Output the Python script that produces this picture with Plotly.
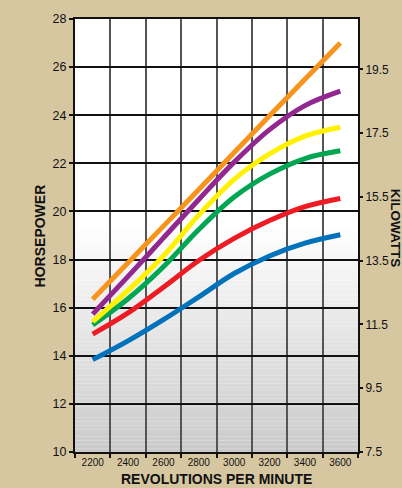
import plotly.graph_objects as go

rpm = [2200, 2400, 2600, 2800, 3000, 3200, 3400, 3600]
hp_orange = [16.35, 17.87, 19.39, 20.91, 22.45, 23.98, 25.5, 27.0]
hp_purple = [15.73, 17.3, 18.9, 20.5, 22.05, 23.4, 24.4, 25.0]
hp_yellow = [15.42, 16.72, 18.15, 19.85, 21.33, 22.39, 23.13, 23.5]
hp_green = [15.28, 16.37, 17.7, 19.25, 20.6, 21.55, 22.2, 22.52]
hp_red = [14.9, 15.78, 16.85, 17.96, 18.88, 19.62, 20.2, 20.54]
hp_blue = [13.84, 14.62, 15.5, 16.45, 17.42, 18.15, 18.68, 19.03]

hp_ticks = [10, 12, 14, 16, 18, 20, 22, 24, 26, 28]
kw_ticks = [7.5, 9.5, 11.5, 13.5, 15.5, 17.5, 19.5]
rpm_ticks = [2200, 2400, 2600, 2800, 3000, 3200, 3400, 3600]

series = [
    (hp_blue, "#0072BC"),
    (hp_red, "#ED1C24"),
    (hp_green, "#00A651"),
    (hp_yellow, "#FFF200"),
    (hp_purple, "#92278F"),
    (hp_orange, "#F7941D"),
]

fig = go.Figure()
for vals, col in series:
    fig.add_trace(go.Scatter(
        x=rpm, y=vals, mode="lines",
        line=dict(color=col, width=5, shape="spline", smoothing=1.0),
        hoverinfo="skip", showlegend=False,
    ))

# background gradient of the plot area
shapes = []
n = 60
lo, hi = 10.0, 19.5
for i in range(n):
    y0 = lo + (hi - lo) * i / n
    y1 = lo + (hi - lo) * (i + 1) / n
    t = (i + 0.5) / n
    g = int(round(202 + (255 - 202) * t))
    shapes.append(dict(
        type="rect", xref="x domain", yref="y", x0=0, x1=1, y0=y0, y1=y1,
        fillcolor=f"rgb({g},{g},{g})", line=dict(width=0), layer="below",
    ))

font = "Liberation Sans, Arial, Helvetica, sans-serif"
bg = "#d6c7a1"

fig.update_layout(
    width=402, height=488,
    margin=dict(l=75, r=44, t=16, b=36),
    paper_bgcolor=bg,
    plot_bgcolor="#ffffff",
    shapes=shapes,
    font=dict(family=font, color="#111111"),
    xaxis=dict(
        range=[2100, 3700],
        tickvals=rpm_ticks,
        ticks="",
        showgrid=False,
        tickfont=dict(size=10, color="#111"),
        showline=True, linecolor="#111", linewidth=2, mirror=True,
        zeroline=False,
        minor=dict(tickmode="linear", tick0=2100, dtick=200, ticks="outside",
                   ticklen=4, tickcolor="#111", tickwidth=1.5,
                   showgrid=True, gridcolor="#555", gridwidth=1.5),
    ),
    yaxis=dict(
        range=[10, 28],
        tickvals=hp_ticks,
        ticks="outside", ticklen=4, tickcolor="#111", tickwidth=1.5,
        showgrid=True, gridcolor="#111", gridwidth=2,
        tickfont=dict(size=12.5, color="#111"),
        showline=True, linecolor="#111", linewidth=2, mirror=True,
        zeroline=False,
    ),
    yaxis2=dict(
        range=[7.5, 21.08],
        overlaying="y", side="right",
        tickvals=kw_ticks,
        ticktext=[f"{v:.1f}" for v in kw_ticks],
        ticks="outside", ticklen=4, tickcolor="#111", tickwidth=1.5,
        showgrid=False, zeroline=False,
        tickfont=dict(size=12, color="#111"),
    ),
    annotations=[
        dict(text="<b>HORSEPOWER</b>", xref="paper", yref="paper", x=-0.124, y=0.5,
             xanchor="center", yanchor="middle", textangle=-90, showarrow=False,
             font=dict(size=14, color="#111", family=font)),
        dict(text="<b>KILOWATTS</b>", xref="paper", yref="paper", x=1.134, y=0.516,
             xanchor="center", yanchor="middle", textangle=90, showarrow=False,
             font=dict(size=13.5, color="#111", family=font)),
        dict(text="<b>REVOLUTIONS PER MINUTE</b>", xref="paper", yref="paper", x=0.5, y=-0.062,
             xanchor="center", yanchor="middle", showarrow=False,
             font=dict(size=14, color="#111", family=font)),
    ],
)
fig.add_trace(go.Scatter(x=[], y=[], yaxis="y2", showlegend=False, hoverinfo="skip"))

fig.write_html(
    "out.html",
    config={"displayModeBar": False},
    post_script=f"document.body.style.margin='0';document.body.style.background='{bg}';",
)
